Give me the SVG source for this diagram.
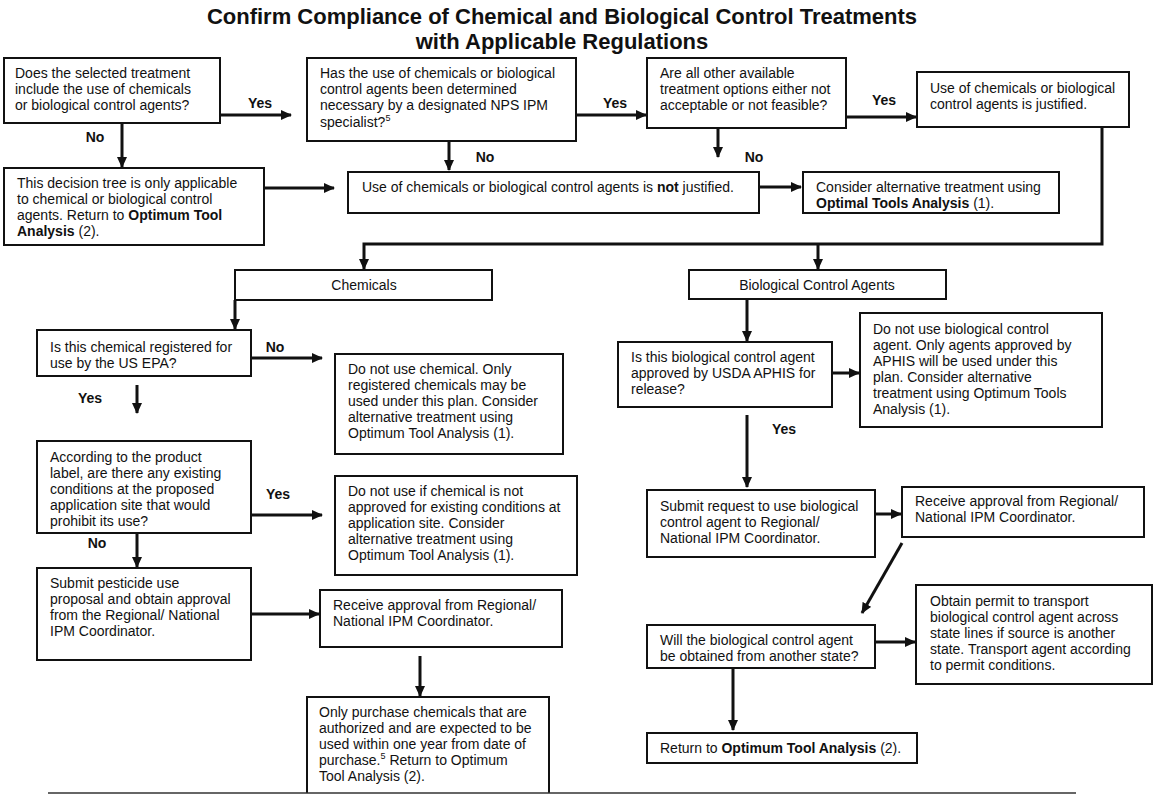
<svg xmlns="http://www.w3.org/2000/svg" width="1154" height="795" viewBox="0 0 1154 795">
<style>
.box{fill:#fff;stroke:#111;stroke-width:2}
.t{font-family:"Liberation Sans",Arial,sans-serif;font-size:14px;fill:#111}
.b{font-weight:bold}
.lbl{font-family:"Liberation Sans",Arial,sans-serif;font-size:14px;font-weight:bold;fill:#111}
.title{font-family:"Liberation Sans",Arial,sans-serif;font-size:22px;font-weight:bold;fill:#111}
.c{fill:none;stroke:#111;stroke-width:3}
.sup{font-size:9px}
</style>
<defs>
<marker id="ah" markerUnits="userSpaceOnUse" markerWidth="11" markerHeight="10" refX="10" refY="5" orient="auto">
<path d="M0,0 L11,5 L0,10 z" fill="#111"/>
</marker>
</defs>
<rect width="1154" height="795" fill="#fff"/>
<text class="title" x="562" y="24" text-anchor="middle">Confirm Compliance of Chemical and Biological Control Treatments</text>
<text class="title" x="562" y="49" text-anchor="middle">with Applicable Regulations</text>

<g id="connectors">
<line class="c" x1="220" y1="115" x2="291" y2="115" marker-end="url(#ah)"/>
<line class="c" x1="122" y1="123" x2="122" y2="167" marker-end="url(#ah)"/>
<line class="c" x1="576" y1="115" x2="646" y2="115" marker-end="url(#ah)"/>
<line class="c" x1="449" y1="141" x2="449" y2="170" marker-end="url(#ah)"/>
<line class="c" x1="718" y1="128" x2="718" y2="157" marker-end="url(#ah)"/>
<line class="c" x1="846" y1="117" x2="916" y2="117" marker-end="url(#ah)"/>
<line class="c" x1="264" y1="188" x2="334" y2="188" marker-end="url(#ah)"/>
<line class="c" x1="759" y1="187" x2="801" y2="187" marker-end="url(#ah)"/>
<path class="c" d="M1102,127 V244 H364 V269" marker-end="url(#ah)"/>
<line class="c" x1="818" y1="244" x2="818" y2="269" marker-end="url(#ah)"/>
<line class="c" x1="235" y1="300" x2="235" y2="329" marker-end="url(#ah)"/>
<line class="c" x1="251" y1="358" x2="322" y2="358" marker-end="url(#ah)"/>
<line class="c" x1="137" y1="385" x2="137" y2="413" marker-end="url(#ah)"/>
<line class="c" x1="251" y1="515" x2="322" y2="515" marker-end="url(#ah)"/>
<line class="c" x1="137" y1="533" x2="137" y2="567" marker-end="url(#ah)"/>
<line class="c" x1="251" y1="614" x2="319" y2="614" marker-end="url(#ah)"/>
<line class="c" x1="420" y1="656" x2="420" y2="696" marker-end="url(#ah)"/>
<line class="c" x1="747" y1="299" x2="747" y2="341" marker-end="url(#ah)"/>
<line class="c" x1="832" y1="373" x2="859" y2="373" marker-end="url(#ah)"/>
<line class="c" x1="747" y1="415" x2="747" y2="487" marker-end="url(#ah)"/>
<line class="c" x1="875" y1="514" x2="901" y2="514" marker-end="url(#ah)"/>
<line class="c" x1="902" y1="543" x2="862" y2="613" marker-end="url(#ah)"/>
<line class="c" x1="875" y1="642" x2="915" y2="642" marker-end="url(#ah)"/>
<line class="c" x1="733" y1="668" x2="733" y2="730" marker-end="url(#ah)"/>
</g>

<g id="labels">
<text class="lbl" x="260" y="108" text-anchor="middle">Yes</text>
<text class="lbl" x="615" y="108" text-anchor="middle">Yes</text>
<text class="lbl" x="884" y="105" text-anchor="middle">Yes</text>
<text class="lbl" x="95" y="142" text-anchor="middle">No</text>
<text class="lbl" x="485" y="162" text-anchor="middle">No</text>
<text class="lbl" x="754" y="162" text-anchor="middle">No</text>
<text class="lbl" x="275" y="352" text-anchor="middle">No</text>
<text class="lbl" x="90" y="403" text-anchor="middle">Yes</text>
<text class="lbl" x="278" y="499" text-anchor="middle">Yes</text>
<text class="lbl" x="97" y="548" text-anchor="middle">No</text>
<text class="lbl" x="784" y="434" text-anchor="middle">Yes</text>
</g>

<g id="n1"><rect class="box" x="4" y="58" width="216" height="65"/>
<text class="t" x="15" y="78">Does the selected treatment</text>
<text class="t" x="15" y="94">include the use of chemicals</text>
<text class="t" x="15" y="110">or biological control agents?</text></g>

<g id="n2"><rect class="box" x="307" y="58" width="269" height="83"/>
<text class="t" x="320" y="78">Has the use of chemicals or biological</text>
<text class="t" x="320" y="94">control agents been determined</text>
<text class="t" x="320" y="110">necessary by a designated NPS IPM</text>
<text class="t" x="320" y="127">specialist?<tspan class="sup" dy="-6">5</tspan></text></g>

<g id="n3"><rect class="box" x="647" y="58" width="199" height="70"/>
<text class="t" x="660" y="78">Are all other available</text>
<text class="t" x="660" y="94">treatment options either not</text>
<text class="t" x="660" y="110">acceptable or not feasible?</text></g>

<g id="n4"><rect class="box" x="917" y="72" width="212" height="55"/>
<text class="t" x="930" y="93">Use of chemicals or biological</text>
<text class="t" x="930" y="109">control agents is justified.</text></g>

<g id="n5"><rect class="box" x="4" y="168" width="260" height="77"/>
<text class="t" x="17" y="188">This decision tree is only applicable</text>
<text class="t" x="17" y="204">to chemical or biological control</text>
<text class="t" x="17" y="220">agents. Return to <tspan class="b">Optimum Tool</tspan></text>
<text class="t" x="17" y="236"><tspan class="b">Analysis</tspan> (2).</text></g>

<g id="n6"><rect class="box" x="348" y="172" width="411" height="41"/>
<text class="t" x="362" y="192">Use of chemicals or biological control agents is <tspan class="b">not</tspan> justified.</text></g>

<g id="n7"><rect class="box" x="803" y="172" width="256" height="41"/>
<text class="t" x="816" y="192">Consider alternative treatment using</text>
<text class="t" x="816" y="208"><tspan class="b">Optimal Tools Analysis</tspan> (1).</text></g>

<g id="n8"><rect class="box" x="235" y="270" width="257" height="30"/>
<text class="t" x="364" y="290" text-anchor="middle">Chemicals</text></g>

<g id="n9"><rect class="box" x="689" y="270" width="257" height="29"/>
<text class="t" x="817" y="290" text-anchor="middle">Biological Control Agents</text></g>

<g id="n10"><rect class="box" x="37" y="330" width="214" height="46"/>
<text class="t" x="50" y="352">Is this chemical registered for</text>
<text class="t" x="50" y="368">use by the US EPA?</text></g>

<g id="n11"><rect class="box" x="335" y="354" width="228" height="100"/>
<text class="t" x="348" y="374">Do not use chemical. Only</text>
<text class="t" x="348" y="390">registered chemicals may be</text>
<text class="t" x="348" y="406">used under this plan. Consider</text>
<text class="t" x="348" y="422">alternative treatment using</text>
<text class="t" x="348" y="438">Optimum Tool Analysis (1).</text></g>

<g id="n12"><rect class="box" x="37" y="441" width="214" height="92"/>
<text class="t" x="50" y="462">According to the product</text>
<text class="t" x="50" y="478">label, are there any existing</text>
<text class="t" x="50" y="494">conditions at the proposed</text>
<text class="t" x="50" y="510">application site that would</text>
<text class="t" x="50" y="526">prohibit its use?</text></g>

<g id="n13"><rect class="box" x="335" y="476" width="242" height="99"/>
<text class="t" x="348" y="496">Do not use if chemical is not</text>
<text class="t" x="348" y="512">approved for existing conditions at</text>
<text class="t" x="348" y="528">application site. Consider</text>
<text class="t" x="348" y="544">alternative treatment using</text>
<text class="t" x="348" y="560">Optimum Tool Analysis (1).</text></g>

<g id="n14"><rect class="box" x="37" y="568" width="214" height="92"/>
<text class="t" x="50" y="588">Submit pesticide use</text>
<text class="t" x="50" y="604">proposal and obtain approval</text>
<text class="t" x="50" y="620">from the Regional/ National</text>
<text class="t" x="50" y="636">IPM Coordinator.</text></g>

<g id="n15"><rect class="box" x="320" y="590" width="242" height="57"/>
<text class="t" x="333" y="610">Receive approval from Regional/</text>
<text class="t" x="333" y="626">National IPM Coordinator.</text></g>

<g id="n16"><path class="box" d="M307,793 V697 H549 V793"/>
<text class="t" x="319" y="717">Only purchase chemicals that are</text>
<text class="t" x="319" y="733">authorized and are expected to be</text>
<text class="t" x="319" y="749">used within one year from date of</text>
<text class="t" x="319" y="765">purchase.<tspan class="sup" dy="-6">5</tspan><tspan dy="6">  Return to Optimum</tspan></text>
<text class="t" x="319" y="781">Tool Analysis (2).</text></g>

<g id="n17"><rect class="box" x="618" y="342" width="214" height="65"/>
<text class="t" x="631" y="362">Is this biological control agent</text>
<text class="t" x="631" y="378">approved by USDA APHIS for</text>
<text class="t" x="631" y="394">release?</text></g>

<g id="n18"><rect class="box" x="860" y="313" width="242" height="114"/>
<text class="t" x="873" y="334"> Do not use biological control</text>
<text class="t" x="873" y="350">agent. Only agents approved by</text>
<text class="t" x="873" y="366">APHIS will be used under this</text>
<text class="t" x="873" y="382">plan. Consider alternative</text>
<text class="t" x="873" y="398">treatment using Optimum Tools</text>
<text class="t" x="873" y="414">Analysis (1).</text></g>

<g id="n19"><rect class="box" x="647" y="490" width="228" height="67"/>
<text class="t" x="660" y="511">Submit request to use biological</text>
<text class="t" x="660" y="527">control agent to Regional/</text>
<text class="t" x="660" y="543">National IPM Coordinator.</text></g>

<g id="n20"><rect class="box" x="902" y="487" width="242" height="50"/>
<text class="t" x="915" y="506">Receive approval from Regional/</text>
<text class="t" x="915" y="522">National IPM Coordinator.</text></g>

<g id="n21"><rect class="box" x="647" y="625" width="228" height="43"/>
<text class="t" x="660" y="645">Will the biological control agent</text>
<text class="t" x="660" y="661">be obtained from another state?</text></g>

<g id="n22"><rect class="box" x="916" y="585" width="236" height="99"/>
<text class="t" x="930" y="606">Obtain permit to transport</text>
<text class="t" x="930" y="622">biological control agent across</text>
<text class="t" x="930" y="638">state lines if source is another</text>
<text class="t" x="930" y="654">state. Transport agent according</text>
<text class="t" x="930" y="670">to permit conditions.</text></g>

<g id="n23"><rect class="box" x="647" y="733" width="270" height="30"/>
<text class="t" x="660" y="753">Return to <tspan class="b">Optimum Tool Analysis</tspan> (2).</text></g>

<line x1="48" y1="793" x2="1076" y2="793" stroke="#333" stroke-width="1.5"/>
</svg>
